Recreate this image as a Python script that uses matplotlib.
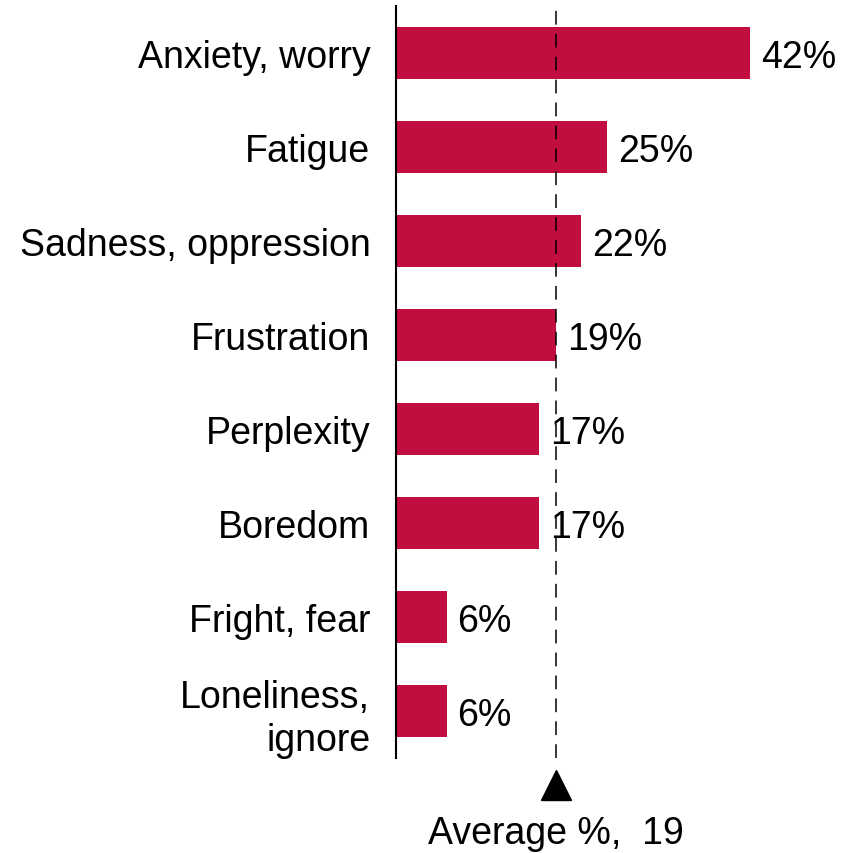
import matplotlib.pyplot as plt

# ---------- data ----------
categories = ['Anxiety, worry', 'Fatigue', 'Sadness, oppression', 'Frustration',
              'Perplexity', 'Boredom', 'Fright, fear', 'Loneliness,\nignore']
values = [42, 25, 22, 19, 17, 17, 6, 6]
average = 19

# ---------- plot ----------
plt.rcParams['font.family'] = ['Liberation Sans', 'DejaVu Sans']
fig = plt.figure(figsize=(8.53, 8.54), dpi=100)
ax = fig.add_axes([396 / 853, 95 / 854, 0.4941, 752 / 854])

ypos = list(range(len(categories)))
ax.barh(ypos, values, height=0.563, color='#C20E3E')
for y, v in zip(ypos, values):
    ax.text(v + 1.3, y, '{}%'.format(v), va='center_baseline', ha='left',
            fontsize=27)

# average marker
ax.axvline(average, color='black', lw=1.1, dashes=(9, 6))
ax.plot([average], [7.79], marker='^', markersize=22, color='black',
        clip_on=False)
ax.text(average, 8.3, 'Average %,  {}'.format(average), ha='center',
        va='center', fontsize=27)

ax.set_xlim(0, 50)
ax.set_ylim(7.5, -0.5)
ax.set_yticks(ypos)
ax.set_yticklabels(categories, fontsize=27, linespacing=1.25)
ax.tick_params(axis='y', length=0, pad=18.5)
ax.set_xticks([])
for s in ['top', 'right', 'bottom']:
    ax.spines[s].set_visible(False)
ax.spines['left'].set_linewidth(1.5)

fig.savefig('out.png', dpi=100)
